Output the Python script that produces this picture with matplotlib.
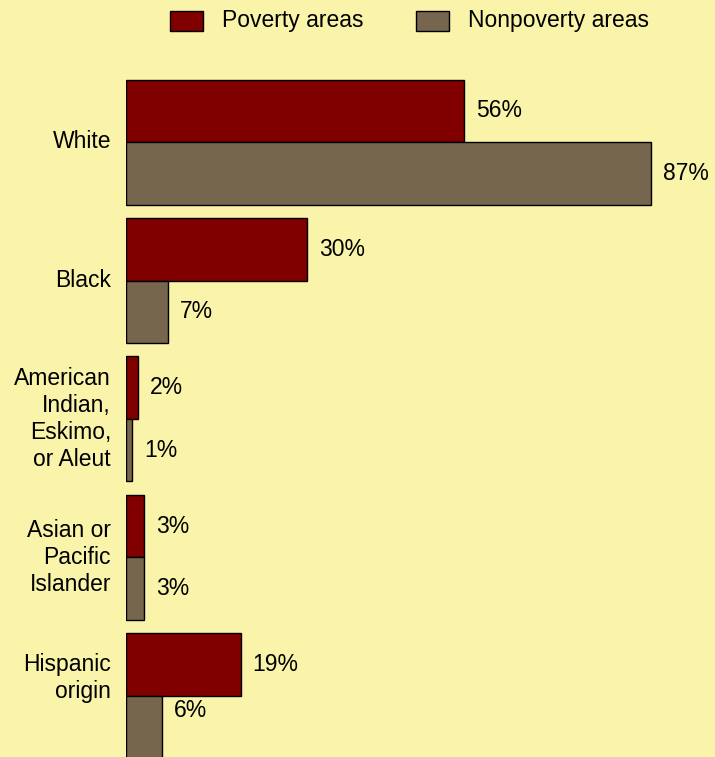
import numpy as np
import matplotlib
matplotlib.use('Agg')
from matplotlib import pyplot as plt
from matplotlib.patches import Rectangle

plt.rcParams['font.family'] = ['Liberation Sans', 'DejaVu Sans']

# Data
categories = ['White', 'Black', 'American\nIndian,\nEskimo,\nor Aleut',
              'Asian or\nPacific\nIslander', 'Hispanic\norigin']
poverty = [56, 30, 2, 3, 19]
nonpoverty = [87, 7, 1, 3, 6]
series_names = ['Poverty areas', 'Nonpoverty areas']

bg = '#F9F4AA'
c_pov = '#800000'
c_non = '#76664E'
fs = 16.5

W, H = 715, 757
fig = plt.figure(figsize=(W / 100, H / 100), dpi=100)
fig.patch.set_facecolor(bg)

x0 = 126
ax = fig.add_axes([x0 / W, 0, 1 - x0 / W, 1])
ax.set_facecolor(bg)

px_per_pct = 525 / 87.0
ax.set_xlim(0, (W - x0) / px_per_pct)
pitch = 138.5
ax.set_ylim(H / pitch - 142 / pitch, -142 / pitch)

y = np.arange(len(categories))
h = 62.5 / pitch
ax.barh(y - h / 2, poverty, height=h, color=c_pov, edgecolor='black', linewidth=1)
ax.barh(y + h / 2, nonpoverty, height=h, color=c_non, edgecolor='black', linewidth=1)

# the last group runs off the bottom edge, its labels sit higher up
label_nudge = [0, 0, 0, 0, -18 / pitch]
non_nudge = [0, 0, 0, 0, -17 / pitch]

off = 12 / px_per_pct
for i in range(len(categories)):
    ax.text(poverty[i] + off, y[i] - h / 2, '%d%%' % poverty[i],
            ha='left', va='center', fontsize=fs)
    ax.text(nonpoverty[i] + off, y[i] + h / 2 + non_nudge[i], '%d%%' % nonpoverty[i],
            ha='left', va='center', fontsize=fs)
    ax.text(-15 / px_per_pct, y[i] + label_nudge[i], categories[i],
            ha='right', va='center', multialignment='right', fontsize=fs,
            linespacing=1.22)

ax.set_xticks([])
ax.set_yticks([])
for s in ax.spines.values():
    s.set_visible(False)

# Legend drawn in figure pixels
for sx, tx, col, name in [(170, 222, c_pov, series_names[0]),
                          (416, 468, c_non, series_names[1])]:
    fig.patches.append(Rectangle((sx / W, 1 - 31 / H), 33 / W, 20 / H,
                                 facecolor=col, edgecolor='black', linewidth=1,
                                 transform=fig.transFigure, figure=fig))
    fig.text(tx / W, 1 - 21 / H, name, ha='left', va='center', fontsize=fs)

fig.savefig('out.png', dpi=100, facecolor=bg)
